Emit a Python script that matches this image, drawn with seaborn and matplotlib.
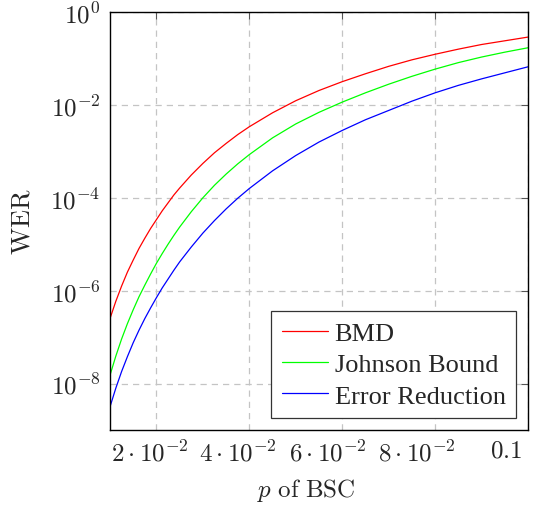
import numpy as np
import pandas as pd
import seaborn as sns
import matplotlib
matplotlib.use("Agg")
import matplotlib.pyplot as plt
from matplotlib.transforms import ScaledTranslation

# crossover probability p of the BSC
p_values = [0.01, 0.01125, 0.0125, 0.01375, 0.015, 0.01625, 0.0175, 0.01875,
            0.02, 0.02125, 0.0225, 0.02375, 0.025, 0.0275, 0.03, 0.0325,
            0.035, 0.0375, 0.04, 0.045, 0.05, 0.055, 0.06, 0.065, 0.07,
            0.075, 0.08, 0.085, 0.09, 0.095, 0.1]

# WER, stored as log10 exponents
bmd_log = [-6.60, -6.23, -5.90, -5.60, -5.34, -5.09, -4.87, -4.66,
           -4.47, -4.28, -4.11, -3.94, -3.79, -3.51, -3.26, -3.03,
           -2.83, -2.64, -2.47, -2.17, -1.91, -1.69, -1.50, -1.33, -1.17,
           -1.03, -0.91, -0.80, -0.70, -0.62, -0.54]
johnson_log = [-7.82, -7.41, -7.04, -6.71, -6.41, -6.13, -5.88, -5.64,
               -5.41, -5.20, -5.00, -4.81, -4.63, -4.30, -4.00, -3.73,
               -3.49, -3.27, -3.07, -2.71, -2.41, -2.16, -1.94, -1.74, -1.555,
               -1.385, -1.23, -1.09, -0.97, -0.865, -0.77]
reduction_log = [-8.50, -8.10, -7.74, -7.42, -7.12, -6.85, -6.60, -6.37,
                 -6.15, -5.94, -5.75, -5.56, -5.38, -5.06, -4.76, -4.49,
                 -4.24, -4.01, -3.80, -3.42, -3.09, -2.80, -2.55, -2.32, -2.12,
                 -1.92, -1.74, -1.58, -1.44, -1.31, -1.18]

series_names = ["BMD", "Johnson Bound", "Error Reduction"]
series_colors = ["#ff0000", "#00ff00", "#0000ff"]

x_ticks = [0.02, 0.04, 0.06, 0.08, 0.1]
x_ticklabels = [r"$2\cdot10^{-2}$", r"$4\cdot10^{-2}$", r"$6\cdot10^{-2}$",
                r"$8\cdot10^{-2}$", r"$0.1$"]
y_ticks = [1e-8, 1e-6, 1e-4, 1e-2, 1e0]
y_ticklabels = [r"$10^{-8}$", r"$10^{-6}$", r"$10^{-4}$", r"$10^{-2}$", r"$10^{0}$"]


rows = []
for name, logs in zip(series_names, [bmd_log, johnson_log, reduction_log]):
    for p, e in zip(p_values, logs):
        rows.append({"p": p, "WER": 10.0 ** e, "Decoder": name})
df = pd.DataFrame(rows)

sns.set_style("white")
plt.rcParams["mathtext.fontset"] = "cm"
plt.rcParams["font.family"] = ["Liberation Serif", "DejaVu Serif"]

fig = plt.figure(figsize=(5.44, 5.06), dpi=100)
ax = fig.add_axes([110 / 544, 1 - 431 / 506, 418 / 544, 418 / 506])

sns.lineplot(data=df, x="p", y="WER", hue="Decoder", hue_order=series_names,
             palette=series_colors, linewidth=0.9, ax=ax, sort=False)

ax.set_yscale("log")
ax.set_xlim(0.01, 0.1)
ax.set_ylim(1e-9, 1.0)

ax.set_xticks(x_ticks)
ax.set_xticklabels(x_ticklabels, fontsize=18)
ax.set_yticks(y_ticks)
ax.set_yticklabels(y_ticklabels, fontsize=18)
ax.yaxis.set_minor_locator(matplotlib.ticker.NullLocator())
ax.tick_params(which="major", direction="in", length=5, width=0.8,
               color="#555555", top=True, right=True, pad=7)

# pgfplots put the x labels a bit left of their ticks
shifts = [-7, -11, -14, -18, -22]
for lab, dx in zip(ax.get_xticklabels(), shifts):
    lab.set_transform(lab.get_transform() + ScaledTranslation(dx / 100, 0, fig.dpi_scale_trans))

ax.grid(True, which="major", color="#c4c4c4", linestyle=(0, (5, 4)), linewidth=0.9)
ax.set_axisbelow(True)
for s in ax.spines.values():
    s.set_color("black")
    s.set_linewidth(1.0)

ax.set_xlabel(r"$p\ \mathrm{of\ BSC}$", fontsize=18)
ax.set_ylabel(r"$\mathrm{WER}$", fontsize=19, labelpad=11)
ax.xaxis.set_label_coords(0.47, -0.11)

leg = ax.legend(loc="lower right", fontsize=19, frameon=True, fancybox=False,
                framealpha=1.0, edgecolor="#333333", handlelength=1.75,
                handletextpad=0.25, borderpad=0.4, labelspacing=0.3,
                borderaxespad=0.45)
leg.get_frame().set_linewidth(0.9)
for line in leg.get_lines():
    line.set_linewidth(0.9)

fig.savefig("out.png", dpi=100)
